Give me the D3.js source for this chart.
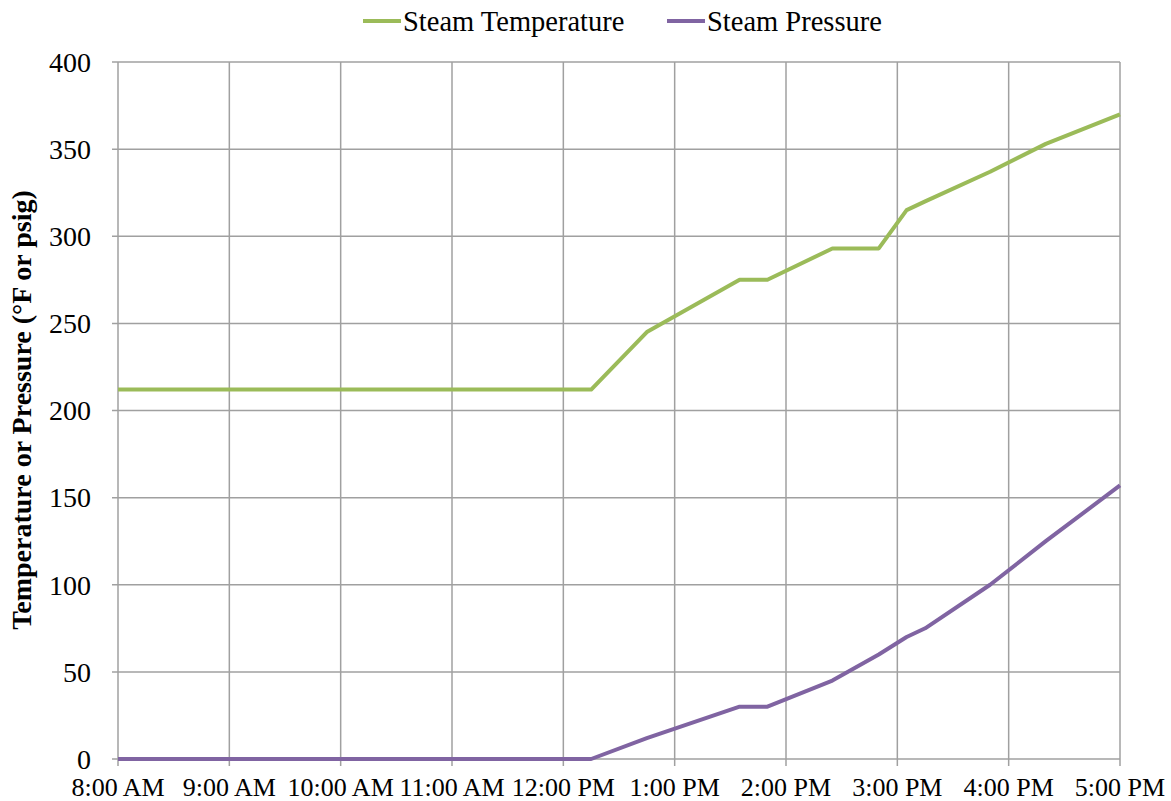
<!DOCTYPE html>
<html>
<head>
<meta charset="utf-8">
<script src="https://cdn.jsdelivr.net/npm/d3@7"></script>
<style>
  body { margin: 0; background: #fff; }
  svg { font-family: "Liberation Serif", "Times New Roman", serif; }
</style>
</head>
<body>
<div id="chart"></div>
<script>
// Sample times (same day)
const times = ["08:00", "12:15", "12:45", "13:35", "13:50", "14:25", "14:50", "15:05", "15:15", "15:50", "16:20", "17:00"];
const steamTemperature = [212, 212, 245, 275, 275, 293, 293, 315, 320, 337, 353, 370];
const steamPressure = [0, 0, 12, 30, 30, 45, 60, 70, 75, 100, 125, 157];
const yTicks = [0, 50, 100, 150, 200, 250, 300, 350, 400];
const hourTicks = ["08:00", "09:00", "10:00", "11:00", "12:00", "13:00", "14:00", "15:00", "16:00", "17:00"];

const parseTime = d3.timeParse("%H:%M");
const fmtTime = d3.timeFormat("%-I:%M %p");

const width = 1171, height = 801;
const margin = { top: 62, right: 51, bottom: 42, left: 118 };

const svg = d3.select("#chart").append("svg")
  .attr("width", width)
  .attr("height", height);

const x = d3.scaleTime()
  .domain([parseTime("08:00"), parseTime("17:00")])
  .range([margin.left, width - margin.right]);

const y = d3.scaleLinear()
  .domain([0, 400])
  .range([height - margin.bottom, margin.top]);

// Gridlines
const grid = svg.append("g").attr("stroke", "#a0a0a0").attr("stroke-width", 1.5);
grid.selectAll(".hg").data(yTicks).join("line")
  .attr("x1", margin.left - 6).attr("x2", width - margin.right)
  .attr("y1", d => y(d)).attr("y2", d => y(d));
grid.selectAll(".vg").data(hourTicks).join("line")
  .attr("x1", d => x(parseTime(d))).attr("x2", d => x(parseTime(d)))
  .attr("y1", margin.top).attr("y2", height - margin.bottom + 7);

// Y tick labels
svg.append("g").selectAll("text").data(yTicks).join("text")
  .attr("x", 91)
  .attr("y", d => y(d))
  .attr("dy", "0.35em")
  .attr("text-anchor", "end")
  .style("font-size", "28px")
  .attr("fill", "#000")
  .text(d => d);

// X tick labels
svg.append("g").selectAll("text").data(hourTicks).join("text")
  .attr("x", d => x(parseTime(d)))
  .attr("y", 796)
  .attr("text-anchor", "middle")
  .style("font-size", "26px")
  .attr("fill", "#000")
  .text(d => fmtTime(parseTime(d)));

// Y axis title
svg.append("text")
  .attr("transform", "translate(31,410) rotate(-90)")
  .attr("text-anchor", "middle")
  .style("font-size", "28px")
  .style("font-weight", "bold")
  .text("Temperature or Pressure (°F or psig)");

// Lines
const series = [
  { name: "Steam Temperature", values: steamTemperature, color: "#9BBB59" },
  { name: "Steam Pressure", values: steamPressure, color: "#8064A2" }
];

const line = d3.line()
  .x(d => x(parseTime(d.t)))
  .y(d => y(d.v));

series.forEach(s => {
  svg.append("path")
    .datum(times.map((t, i) => ({ t: t, v: s.values[i] })))
    .attr("fill", "none")
    .attr("stroke", s.color)
    .attr("stroke-width", 4)
    .attr("stroke-linejoin", "round")
    .attr("d", line);
});

// Legend
const legendX = [363, 667];
const legend = svg.append("g");
series.forEach((s, i) => {
  legend.append("line")
    .attr("x1", legendX[i]).attr("x2", legendX[i] + 38)
    .attr("y1", 21).attr("y2", 21)
    .attr("stroke", s.color).attr("stroke-width", 4);
  legend.append("text")
    .attr("x", legendX[i] + 40)
    .attr("y", 31)
    .style("font-size", "28.5px")
    .attr("fill", "#000")
    .text(s.name);
});
</script>
</body>
</html>
